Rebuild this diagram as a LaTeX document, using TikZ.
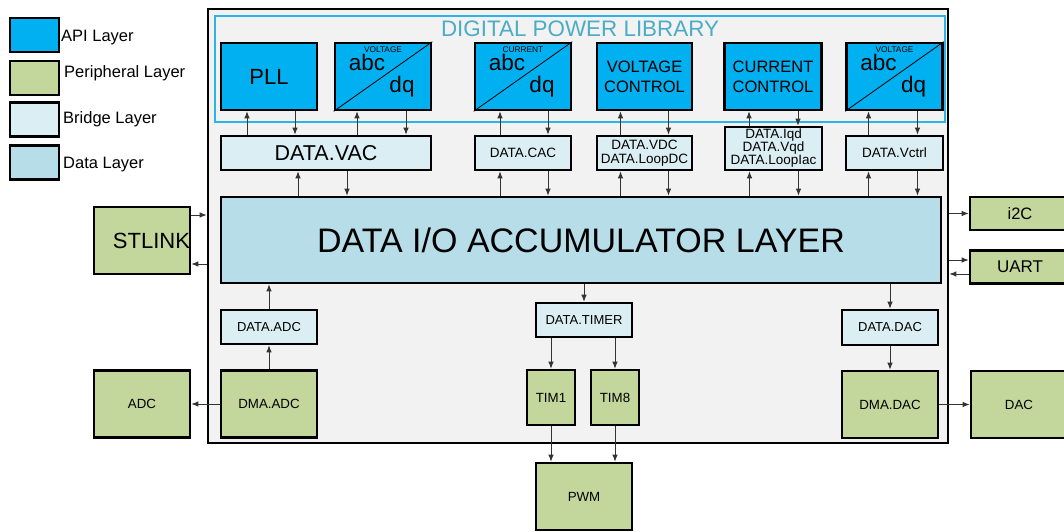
\documentclass[tikz,border=0pt]{standalone}
\usepackage{fontspec}
\setmainfont{Liberation Sans}
\usetikzlibrary{arrows.meta}

\definecolor{apiblue}{HTML}{00B0F0}
\definecolor{perigreen}{HTML}{C3D69B}
\definecolor{bridgeblue}{HTML}{DAEEF3}
\definecolor{datablue}{HTML}{B7DEE8}
\definecolor{mcugray}{HTML}{F2F2F2}
\definecolor{libframe}{HTML}{2DB4E6}
\definecolor{titlecyan}{HTML}{4BACC6}

\tikzset{
    block/.style={draw=black, line width=2.6pt, inner sep=0pt, align=center},
    apiblock/.style={block, fill=apiblue, minimum width=96, minimum height=67, font=\fontsize{16.5}{20}\selectfont},
    bridge/.style={block, fill=bridgeblue, minimum width=96, minimum height=34, font=\fontsize{13.5}{14}\selectfont},
    peri/.style={block, fill=perigreen, minimum width=96, minimum height=67, font=\fontsize{13.3}{15}\selectfont},
    datalayer/.style={block, fill=datablue, minimum width=720, minimum height=86, font=\fontsize{34}{36}\selectfont},
    legbox/.style={block, minimum width=49, minimum height=34},
    legtext/.style={anchor=base west, inner sep=0pt, font=\fontsize{16.5}{18}\selectfont},
    bigtext/.style={inner sep=0pt, font=\fontsize{22.5}{24}\selectfont},
    arr/.style={-{Latex[length=7pt,width=5.5pt]}, line width=0.9pt, draw=black!80}
}

\begin{document}
\begin{tikzpicture}[x=1pt,y=-1pt]
    \useasboundingbox (0,0) rectangle (1064,532);

    % Legende
    \node[legbox, fill=apiblue] (legapi) at (34.5,35) {};
    \node[legtext] (legapitxt) at (61,41.5) {API Layer};
    \node[legbox, fill=perigreen] (legperi) at (34.5,78) {};
    \node[legtext] (legperitxt) at (64,77.5) {Peripheral Layer};
    \node[legbox, fill=bridgeblue] (legbridge) at (34.5,119.5) {};
    \node[legtext] (legbridgetxt) at (63,124) {Bridge Layer};
    \node[legbox, fill=datablue] (legdata) at (34.5,162.5) {};
    \node[legtext] (legdatatxt) at (63,168) {Data Layer};

    % Controller und Bibliothek
    \node[block, fill=mcugray, minimum width=740, minimum height=434] (mcu) at (578,226) {};
    \node[draw=libframe, line width=2.2pt, minimum width=730, minimum height=106, inner sep=0pt] (lib) at (580,69) {};
    \node[inner sep=0pt, text=titlecyan, font=\fontsize{22.4}{24}\selectfont] (libtitle) at (580,29) {DIGITAL POWER LIBRARY};

    % API Layer
    \node[apiblock, font=\fontsize{22}{24}\selectfont] (pll) at (269,76.5) {PLL};
    \node[apiblock, minimum width=95] (vctl) at (644.5,76.5) {VOLTAGE\\CONTROL};
    \node[apiblock, minimum width=97] (cctl) at (773,76.5) {CURRENT\\CONTROL};
    \foreach \name/\xpos/\kind in {vabc/383/VOLTAGE, cabc/523/CURRENT, vabcr/894.5/VOLTAGE}
        {
            \node[apiblock] (\name) at (\xpos,76.5) {};
            \draw[line width=0.8pt] (\name.south west) -- (\name.north east);  % Diagonale
            \node[inner sep=0pt, font=\fontsize{8.3}{9}\selectfont] (\name-kind) at ([yshift=26.5]\name.center) {\kind};
            \node[bigtext] (\name-abc) at ([xshift=-16,yshift=14]\name.center) {abc};
            \node[bigtext] (\name-dq) at ([xshift=19,yshift=-10.5]\name.center) {dq};
        }

    % Bridge Layer oben
    \node[bridge, minimum width=210, font=\fontsize{21.5}{24}\selectfont] (vac) at (326,153) {DATA.VAC};
    \node[bridge] (cac) at (523,153) {DATA.CAC};
    \node[bridge, minimum width=95] (vdc) at (644.5,153) {DATA.VDC\\DATA.LoopDC};
    \node[bridge, minimum width=97, minimum height=43, font=\fontsize{13.5}{13}\selectfont] (iqd) at (773.5,148.5) {DATA.Iqd\\DATA.Vqd\\DATA.LoopIac};
    \node[bridge, minimum width=97] (vctrl) at (894.5,153) {DATA.Vctrl};

    % Data Layer
    \node[datalayer] (acc) at (581,240) {DATA I/O ACCUMULATOR LAYER};

    % Bridge Layer unten
    \node[bridge, font=\fontsize{13}{15}\selectfont] (dataadc) at (269,327) {DATA.ADC};
    \node[bridge, font=\fontsize{13}{15}\selectfont] (timer) at (584,320) {DATA.TIMER};
    \node[bridge, minimum height=35, font=\fontsize{13}{15}\selectfont] (datadac) at (890,327.5) {DATA.DAC};

    % Peripherie
    \node[peri, text width=96, align=right, font=\fontsize{22}{24}\selectfont] (stlink) at (142,240.5) {STLINK};
    \node[peri, minimum width=100, minimum height=33, font=\fontsize{16.5}{18}\selectfont] (i2c) at (1020,213.5) {i2C};
    \node[peri, minimum width=100, minimum height=33, font=\fontsize{17}{18}\selectfont] (uart) at (1020,267) {UART};
    \node[peri] (adc) at (142,404) {ADC};
    \node[peri] (dmaadc) at (269,404) {DMA.ADC};
    \node[peri, minimum width=48, minimum height=55] (tim1) at (551,397.5) {TIM1};
    \node[peri, minimum width=48, minimum height=55] (tim8) at (615,397.5) {TIM8};
    \node[peri] (pwm) at (584,496.5) {PWM};
    \node[peri] (dmadac) at (890,404.5) {DMA.DAC};
    \node[peri] (dac) at (1019,404.5) {DAC};

    % Pfeile API <-> Bridge
    \foreach \api/\brg/\up/\down in {pll/vac/-22/26, vabc/vac/-26/23, cabc/cac/-23/25, vctl/vdc/-24/24, cctl/iqd/-24/25, vabcr/vctrl/-26/23}
        {
            \draw[arr] ([xshift=\up]\api.south |- \brg.north) -- ([xshift=\up]\api.south);
            \draw[arr] ([xshift=\down]\api.south) -- ([xshift=\down]\api.south |- \brg.north);
        }

    % Pfeile Bridge <-> Akkumulator
    \foreach \brg/\up/\down in {vac/-28/21, cac/-23/25, vdc/-24/24, iqd/-24/25, vctrl/-26/23}
        {
            \draw[arr] ([xshift=\up]\brg.south |- acc.north) -- ([xshift=\up]\brg.south);
            \draw[arr] ([xshift=\down]\brg.south) -- ([xshift=\down]\brg.south |- acc.north);
        }

    % Pfeile unten
    \draw[arr] (dmaadc) -- (dataadc);
    \draw[arr] (dataadc.north) -- (dataadc.north |- acc.south);
    \draw[arr] (dmaadc) -- (adc);
    \draw[arr] (timer.north |- acc.south) -- (timer.north);
    \draw[arr] (tim1.north |- timer.south) -- (tim1.north);
    \draw[arr] (tim8.north |- timer.south) -- (tim8.north);
    \draw[arr] (tim1.south) -- (tim1.south |- pwm.north);
    \draw[arr] (tim8.south) -- (tim8.south |- pwm.north);
    \draw[arr] (datadac.north |- acc.south) -- (datadac.north);
    \draw[arr] (datadac) -- (dmadac);
    \draw[arr] (dmadac) -- (dac);

    % Pfeile seitlich
    \draw[arr] ([yshift=25.5]stlink.east) -- ([yshift=25.5]stlink.east -| mcu.west);
    \draw[arr] ([yshift=-23.5]stlink.east -| mcu.west) -- ([yshift=-23.5]stlink.east);
    \draw[arr] (i2c.west -| mcu.east) -- (i2c.west);
    \draw[arr] ([yshift=7]uart.west -| mcu.east) -- ([yshift=7]uart.west);
    \draw[arr] ([yshift=-7]uart.west) -- ([yshift=-7]uart.west -| mcu.east);

\end{tikzpicture}
\end{document}
